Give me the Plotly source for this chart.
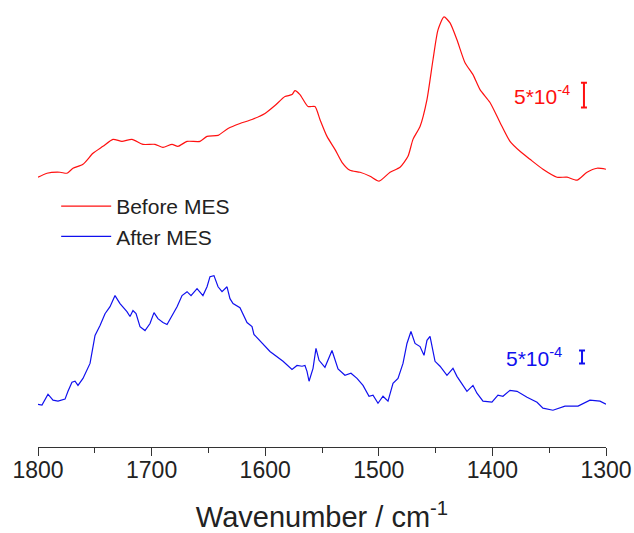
import plotly.graph_objects as go

# Wavenumbers (cm^-1) and absorbance (in units of 1e-4, arbitrary baseline)
wn_before = [1800, 1792.1, 1780.6, 1774.5, 1769.2, 1760.4, 1751.6, 1742.8, 1734.0, 1726.1,
             1717.3, 1707.6, 1697.0, 1690.0, 1682.0, 1676.8, 1668.8, 1657.4, 1651.2, 1641.5,
             1632.7, 1622.2, 1611.6, 1600.2, 1591.4, 1582.6, 1576.4, 1573.8, 1569.4, 1562.3,
             1556.2, 1551.8, 1545.6, 1538.6, 1532.4, 1525.4, 1516.5, 1507.7, 1499.8, 1490.1,
             1481.3, 1474.3, 1469.9, 1463.7, 1457.6, 1452.3, 1447.9, 1442.6, 1437.3, 1431.2,
             1424.1, 1417.1, 1410.9, 1402.1, 1393.3, 1384.5, 1375.7, 1366.9, 1355.5, 1343.1,
             1334.3, 1325.5, 1316.7, 1307.9, 1300]
abs_before = [0.8, 1.6, 1.8, 1.6, 2.6, 3.4, 5.6, 7.0, 8.4, 8.0,
              8.4, 7.4, 7.4, 6.8, 7.4, 7.0, 8.0, 8.0, 9.0, 9.2,
              10.6, 11.6, 12.4, 13.6, 15.2, 17.0, 17.4, 18.2, 17.4, 15.0,
              15.0, 12.4, 9.0, 6.4, 3.8, 2.2, 1.8, 1.0, 0.0, 1.8,
              2.8, 5.0, 8.4, 11.0, 16.4, 24.4, 30.4, 33.0, 31.8, 28.4,
              23.8, 21.4, 18.4, 15.8, 11.8, 8.0, 6.0, 4.4, 2.4, 0.8,
              0.8, 0.2, 1.8, 2.6, 2.4]

wn_after = [1800, 1796.5, 1791.2, 1786.8, 1782.4, 1776.2, 1773.6, 1770.1, 1767.4, 1764.8,
            1760.4, 1754.2, 1749.8, 1745.4, 1741.0, 1736.6, 1732.2, 1727.8, 1721.7, 1719.0,
            1716.4, 1713.7, 1710.2, 1705.8, 1701.4, 1697.9, 1694.4, 1690.0, 1686.4, 1682.0,
            1677.6, 1673.2, 1668.8, 1665.3, 1660.0, 1654.8, 1651.2, 1648.6, 1645.1, 1641.5,
            1638.0, 1633.6, 1631.0, 1628.3, 1622.2, 1616.0, 1611.6, 1609.9, 1595.8, 1584.3,
            1576.4, 1572.0, 1567.6, 1565.0, 1563.2, 1561.4, 1557.9, 1555.3, 1552.6, 1547.4,
            1541.2, 1535.9, 1529.8, 1524.5, 1519.2, 1513.9, 1508.6, 1505.1, 1500.7, 1496.3,
            1491.9, 1487.5, 1483.1, 1478.7, 1475.2, 1471.7, 1468.1, 1463.7, 1460.2, 1457.6,
            1454.9, 1450.5, 1446.1, 1440.0, 1434.7, 1431.2, 1426.8, 1422.4, 1417.1, 1413.6,
            1408.3, 1400.4, 1395.1, 1390.7, 1384.5, 1378.3, 1369.5, 1360.7, 1355.5, 1346.7,
            1336.1, 1324.6, 1314.1, 1305.3, 1300]
abs_after = [1.5, 1.2, 5.4, 3.1, 2.7, 3.5, 6.5, 10.0, 10.4, 8.8,
             11.5, 17.3, 28.1, 31.9, 36.5, 39.2, 43.5, 40.4, 37.3, 35.4,
             37.7, 36.5, 31.5, 30.0, 32.7, 36.9, 34.6, 33.1, 32.3, 35.8,
             39.2, 43.5, 45.0, 43.5, 46.2, 43.5, 46.9, 50.8, 51.2, 46.9,
             45.0, 46.9, 42.3, 40.4, 38.8, 33.1, 31.5, 28.5, 21.9, 18.1,
             15.0, 16.5, 16.2, 16.5, 14.2, 10.4, 15.4, 23.1, 18.5, 15.8,
             22.3, 15.2, 12.7, 13.5, 11.5, 8.8, 4.6, 5.0, 1.9, 4.6,
             2.7, 9.6, 11.5, 17.3, 25.0, 29.6, 25.0, 23.8, 20.4, 26.2,
             27.7, 18.1, 16.2, 12.7, 15.4, 12.3, 9.2, 6.5, 8.8, 5.8,
             2.7, 2.3, 5.0, 4.6, 6.9, 6.5, 4.2, 2.3, 0.0, -0.8,
             0.8, 0.8, 3.1, 2.7, 1.5]

# Scale bars: 5*10^-4 absorbance
bar_size = 5.0
bar_label = "5*10<sup>-4</sup>"
bar_wn_before, bar_mid_before = 1319.4, 17.3
bar_wn_after, bar_mid_after = 1321.1, 19.8

tick_vals = [1800, 1700, 1600, 1500, 1400, 1300]
names = ["Before MES", "After MES"]
RED = "#ff1010"
BLUE = "#1010ee"
FONT = "Arial, 'Liberation Sans', sans-serif"

fig = go.Figure()
fig.add_trace(go.Scatter(x=wn_before, y=abs_before, mode="lines", name=names[0],
                         line=dict(color=RED, width=1.2, shape="spline", smoothing=0.6),
                         yaxis="y"))
fig.add_trace(go.Scatter(x=wn_after, y=abs_after, mode="lines", name=names[1],
                         line=dict(color=BLUE, width=1.2), yaxis="y2"))

# scale bars as error bars
fig.add_trace(go.Scatter(x=[bar_wn_before], y=[bar_mid_before], mode="markers",
                         marker=dict(size=1, color="rgba(0,0,0,0)"), showlegend=False,
                         hoverinfo="skip", yaxis="y",
                         error_y=dict(type="constant", value=bar_size / 2, color=RED,
                                      thickness=2, width=3)))
fig.add_trace(go.Scatter(x=[bar_wn_after], y=[bar_mid_after], mode="markers",
                         marker=dict(size=1, color="rgba(0,0,0,0)"), showlegend=False,
                         hoverinfo="skip", yaxis="y2",
                         error_y=dict(type="constant", value=bar_size / 2, color=BLUE,
                                      thickness=2, width=3)))

fig.add_annotation(x=1329.9, y=bar_mid_before, xref="x", yref="y", text=bar_label,
                   showarrow=False, xanchor="right", yanchor="middle",
                   font=dict(color=RED, size=21, family=FONT))
fig.add_annotation(x=1337.0, y=bar_mid_after, xref="x", yref="y2", text=bar_label,
                   showarrow=False, xanchor="right", yanchor="middle",
                   font=dict(color=BLUE, size=21, family=FONT))

fig.update_layout(
    width=634, height=533,
    margin=dict(l=38, r=28, t=0, b=83),
    paper_bgcolor="white", plot_bgcolor="white",
    font=dict(family=FONT, color="#222"),
    showlegend=True,
    legend=dict(x=0.032, y=0.584, xanchor="left", yanchor="top",
                bgcolor="rgba(0,0,0,0)", font=dict(size=21, color="#222"),
                itemwidth=50, tracegroupgap=0),
    xaxis=dict(range=[1800, 1300], tickvals=tick_vals, ticks="outside", ticklen=8,
               tickwidth=1, tickcolor="#333", showline=True, linecolor="#333", linewidth=1,
               showgrid=False, zeroline=False, tickfont=dict(size=23, color="#222"),
               ticklabelstandoff=-6,
               minor=dict(dtick=50, ticks="outside", ticklen=5, tickcolor="#333", showgrid=False),
               title=dict(text="Wavenumber / cm<sup>-1</sup>", font=dict(size=29, color="#222"),
                          standoff=30)),
    yaxis=dict(range=[-53.4, 36.4], visible=False),
    yaxis2=dict(range=[-15.0, 157.69], visible=False, overlaying="y"),
)

fig.write_html("out.html")
